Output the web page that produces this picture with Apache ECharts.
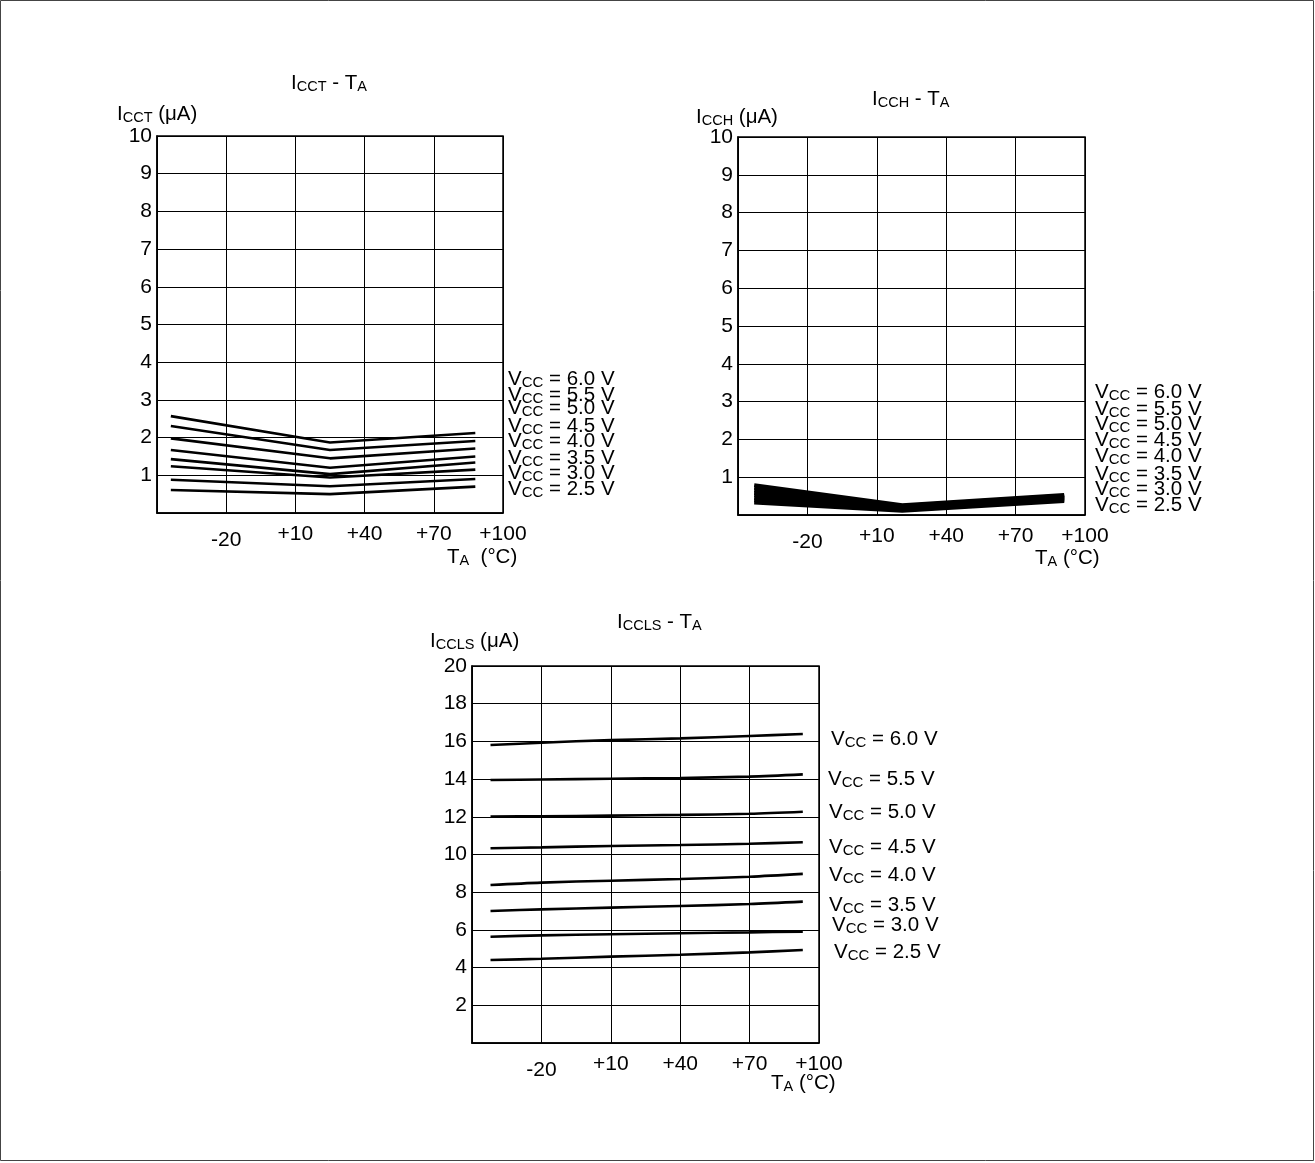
<!DOCTYPE html>
<html>
<head>
<meta charset="utf-8">
<script src="https://cdn.jsdelivr.net/npm/echarts@6/dist/echarts.min.js"></script>
<style>
html,body{margin:0;padding:0;background:#fff;}
#chart{width:1315px;height:1163px;}
</style>
</head>
<body>
<div id="chart"></div>
<script>
// ---------- DATA ----------
const vccLabels = ['6.0', '5.5', '5.0', '4.5', '4.0', '3.5', '3.0', '2.5'];

// ICCT - TA (top left)
const tempIcct = [-44, 25, 88];
const icct60 = [2.57, 1.87, 2.12];
const icct55 = [2.31, 1.67, 1.91];
const icct50 = [1.98, 1.45, 1.71];
const icct45 = [1.67, 1.20, 1.50];
const icct40 = [1.43, 1.03, 1.34];
const icct35 = [1.24, 0.94, 1.15];
const icct30 = [0.88, 0.71, 0.90];
const icct25 = [0.61, 0.50, 0.70];

// ICCH - TA (top right)
const tempIcch = [-43, 21, 91];
const icch60 = [0.79, 0.26, 0.53];
const icch55 = [0.72, 0.24, 0.51];
const icch50 = [0.65, 0.21, 0.49];
const icch45 = [0.58, 0.19, 0.47];
const icch40 = [0.52, 0.17, 0.45];
const icch35 = [0.45, 0.15, 0.42];
const icch30 = [0.39, 0.13, 0.40];
const icch25 = [0.33, 0.11, 0.37];

// ICCLS - TA (bottom)
const tempIccls = [-42, -20, 10, 40, 70, 93];
const iccls60 = [15.81, 15.93, 16.07, 16.16, 16.29, 16.39];
const iccls55 = [13.95, 13.98, 14.02, 14.06, 14.13, 14.25];
const iccls50 = [12.01, 12.03, 12.06, 12.10, 12.16, 12.27];
const iccls45 = [10.33, 10.38, 10.45, 10.50, 10.57, 10.65];
const iccls40 = [8.38, 8.51, 8.61, 8.70, 8.82, 8.97];
const iccls35 = [7.00, 7.09, 7.18, 7.27, 7.37, 7.50];
const iccls30 = [5.64, 5.71, 5.77, 5.82, 5.87, 5.91];
const iccls25 = [4.40, 4.47, 4.58, 4.68, 4.81, 4.93];

// ---------- STYLE ----------
const FONT = '"Liberation Sans", Arial, sans-serif';
const RICH = {
  a: {fontSize: 20.5, fontFamily: FONT, fontWeight: 'normal', color: '#000', lineHeight: 22, verticalAlign: 'bottom'},
  b: {fontSize: 14.5, fontFamily: FONT, fontWeight: 'normal', color: '#000', lineHeight: 18, verticalAlign: 'bottom'},
  v: {fontSize: 15, fontFamily: FONT, fontWeight: 'normal', color: '#000', lineHeight: 18, verticalAlign: 'bottom'}
};
function txt(x, cy, str) {
  return {text: str, left: x, top: cy - 11, padding: 0,
    textStyle: {fontWeight: 'normal', fontFamily: FONT, color: '#000', rich: RICH}};
}
function vcc(x, cy, v) {
  return txt(x, cy, '{a|V}{v|CC}{a| = ' + v + ' V}');
}

const titles = [
  txt(291, 83, '{a|I}{b|CCT}{a| - T}{b|A}'),
  txt(117, 114, '{a|I}{b|CCT}{a| (\u03bcA)}'),
  txt(447, 557, '{a|T}{b|A}{a|  (\u00b0C)}'),
  txt(872, 99, '{a|I}{b|CCH}{a| - T}{b|A}'),
  txt(696, 117, '{a|I}{b|CCH}{a| (\u03bcA)}'),
  txt(1035, 558, '{a|T}{b|A}{a| (\u00b0C)}'),
  txt(617, 622, '{a|I}{b|CCLS}{a| - T}{b|A}'),
  txt(430, 641, '{a|I}{b|CCLS}{a| (\u03bcA)}'),
  txt(771, 1083, '{a|T}{b|A}{a| (\u00b0C)}')
];
const tlY = [379, 395, 408, 426, 441, 458, 473, 489];
const trY = [392, 409, 424, 440, 456, 474, 489, 505];
const bX = [831, 828, 829, 829, 829, 829, 832, 834];
const bY = [739, 779, 812, 847, 875, 905, 925, 952];
vccLabels.forEach((v, i) => {
  titles.push(vcc(508, tlY[i], v));
  titles.push(vcc(1095, trY[i], v));
  titles.push(vcc(bX[i], bY[i], v));
});

const grids = [
  {left: 157, top: 136, width: 346, height: 377},
  {left: 738, top: 137, width: 347, height: 378},
  {left: 472, top: 666, width: 347, height: 377}
].map(g => Object.assign(g, {show: true, borderColor: '#000', borderWidth: 1.5, outerBoundsMode: 'none', containLabel: false}));

function xAxis(gi) {
  return {
    type: 'value', gridIndex: gi, min: -50, max: 100, interval: 30,
    axisLine: {show: true, onZero: false, lineStyle: {color: '#000', width: 1.5}},
    axisTick: {show: false},
    splitLine: {show: true, lineStyle: {color: '#000', width: 1}},
    axisLabel: {
      margin: 11, color: '#000', fontSize: 21, fontFamily: FONT,
      formatter: v => v === -50 ? '' : (v < 0 ? '{d|' + v + '}' : '+' + v),
      rich: {d: {fontSize: 21, fontFamily: FONT, color: '#000', padding: [6, 0, 0, 0]}}
    }
  };
}
function yAxis(gi, max, step) {
  return {
    type: 'value', gridIndex: gi, min: 0, max: max, interval: step,
    axisLine: {show: true, onZero: false, lineStyle: {color: '#000', width: 1.5}},
    axisTick: {show: false},
    splitLine: {show: true, lineStyle: {color: '#000', width: 1}},
    axisLabel: {
      margin: 5, color: '#000', fontSize: 21, fontFamily: FONT,
      formatter: v => v === 0 ? '' : String(v)
    }
  };
}

function mk(xs, ys, gi, w, smooth) {
  return {
    type: 'line', xAxisIndex: gi, yAxisIndex: gi,
    data: xs.map((x, i) => [x, ys[i]]),
    showSymbol: false, symbol: 'none', smooth: smooth || false, silent: true,
    lineStyle: {color: '#000', width: w}
  };
}

const series = [];
[icct60, icct55, icct50, icct45, icct40, icct35, icct30, icct25].forEach(d => series.push(mk(tempIcct, d, 0, 2.6)));
[icch60, icch55, icch50, icch45, icch40, icch35, icch30, icch25].forEach(d => series.push(mk(tempIcch, d, 1, 4)));
[iccls60, iccls55, iccls50, iccls45, iccls40, iccls35, iccls30, iccls25].forEach(d => series.push(mk(tempIccls, d, 2, 2.6, 0.3)));

const chart = echarts.init(document.getElementById('chart'), null, {renderer: 'canvas'});
chart.setOption({
  backgroundColor: '#fff',
  animation: false,
  title: titles,
  grid: grids,
  xAxis: [xAxis(0), xAxis(1), xAxis(2)],
  yAxis: [yAxis(0, 10, 1), yAxis(1, 10, 1), yAxis(2, 20, 2)],
  series: series,
  graphic: [{
    type: 'rect', silent: true,
    shape: {x: 0.5, y: 0.5, width: 1313, height: 1160},
    style: {fill: 'none', stroke: '#444', lineWidth: 1}
  }]
});
</script>
</body>
</html>
